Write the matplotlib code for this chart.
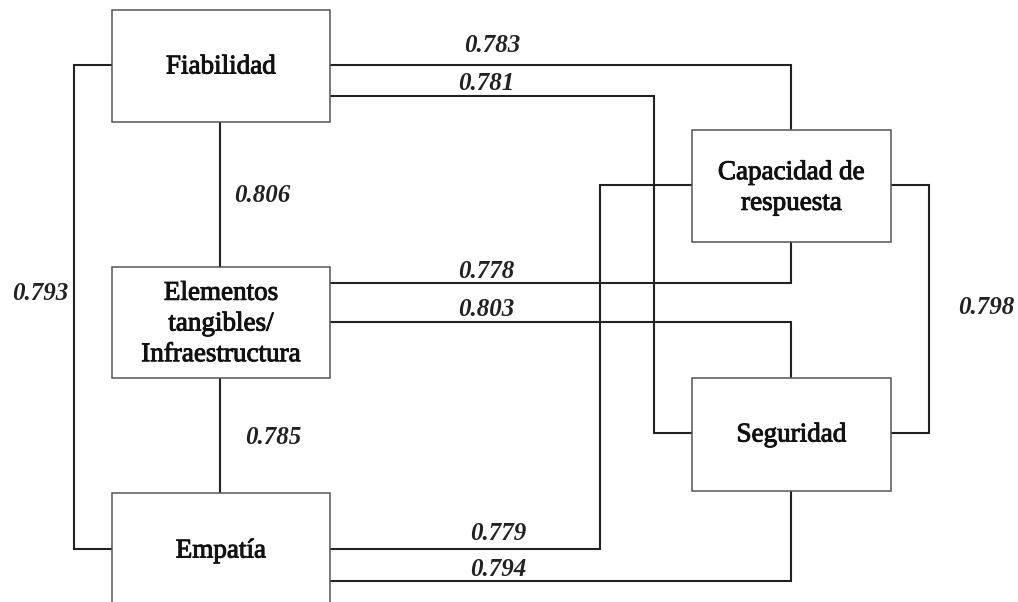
import matplotlib.pyplot as plt
import matplotlib.patheffects as pe
from matplotlib.patches import Rectangle

# constructs and the correlation between each pair
nodes = ["Fiabilidad", "Elementos\ntangibles/\nInfraestructura", "Empatía",
         "Capacidad de\nrespuesta", "Seguridad"]
pairs = [("Fiabilidad", "Capacidad"), ("Fiabilidad", "Seguridad"),
         ("Fiabilidad", "Elementos"), ("Fiabilidad", "Empatía"),
         ("Elementos", "Capacidad"), ("Elementos", "Seguridad"),
         ("Elementos", "Empatía"), ("Empatía", "Capacidad"),
         ("Empatía", "Seguridad"), ("Capacidad", "Seguridad")]
values = [0.783, 0.781, 0.806, 0.793, 0.778, 0.803, 0.785, 0.779, 0.794, 0.798]

# layout in pixel units (figure is 1018x602)
boxes = [(112, 10, 218, 112), (112, 267, 218, 111), (112, 493, 218, 140),
         (692, 130, 199, 112), (692, 378, 199, 113)]
text_y = [67, 324, 551, 188, 435]
paths = [
    [(330, 65), (791, 65), (791, 130)],
    [(330, 96), (654, 96), (654, 433), (692, 433)],
    [(220, 122), (220, 267)],
    [(112, 65), (74, 65), (74, 549), (112, 549)],
    [(330, 283), (791, 283), (791, 242)],
    [(330, 322), (791, 322), (791, 378)],
    [(220, 378), (220, 493)],
    [(330, 549), (600, 549), (600, 185), (692, 185)],
    [(330, 581), (791, 581), (791, 491)],
    [(891, 185), (929, 185), (929, 433), (891, 433)],
]
label_pos = [(492, 45), (486, 83), (262, 196), (40, 293), (486, 271),
             (486, 310), (273, 437), (498, 533), (498, 570), (986, 307)]

fig = plt.figure(figsize=(10.18, 6.02), dpi=100)
ax = fig.add_axes([0, 0, 1, 1])
ax.set_xlim(0, 1018)
ax.set_ylim(602, 0)
ax.axis('off')

for p in paths:
    xs = [q[0] for q in p]
    ys = [q[1] for q in p]
    ax.plot(xs, ys, color='#222222', lw=1.5, solid_joinstyle='miter')

thick = [pe.withStroke(linewidth=0.7, foreground='#111111')]
for name, (x, y, w, h), ty in zip(nodes, boxes, text_y):
    ax.add_patch(Rectangle((x, y), w, h, facecolor='white', edgecolor='#555555', lw=1.1, zorder=3))
    ax.text(x + w / 2, ty, name, ha='center', va='center', fontsize=19.5,
            family='Liberation Serif', linespacing=1.3, color='#111111',
            path_effects=thick, zorder=4)

for v, (x, y) in zip(values, label_pos):
    ax.text(x, y, f"{v:.3f}", ha='center', va='center', fontsize=18,
            family='Liberation Serif', fontweight='bold', style='italic',
            color='#222222', zorder=4)

fig.savefig("out.png", dpi=100)
